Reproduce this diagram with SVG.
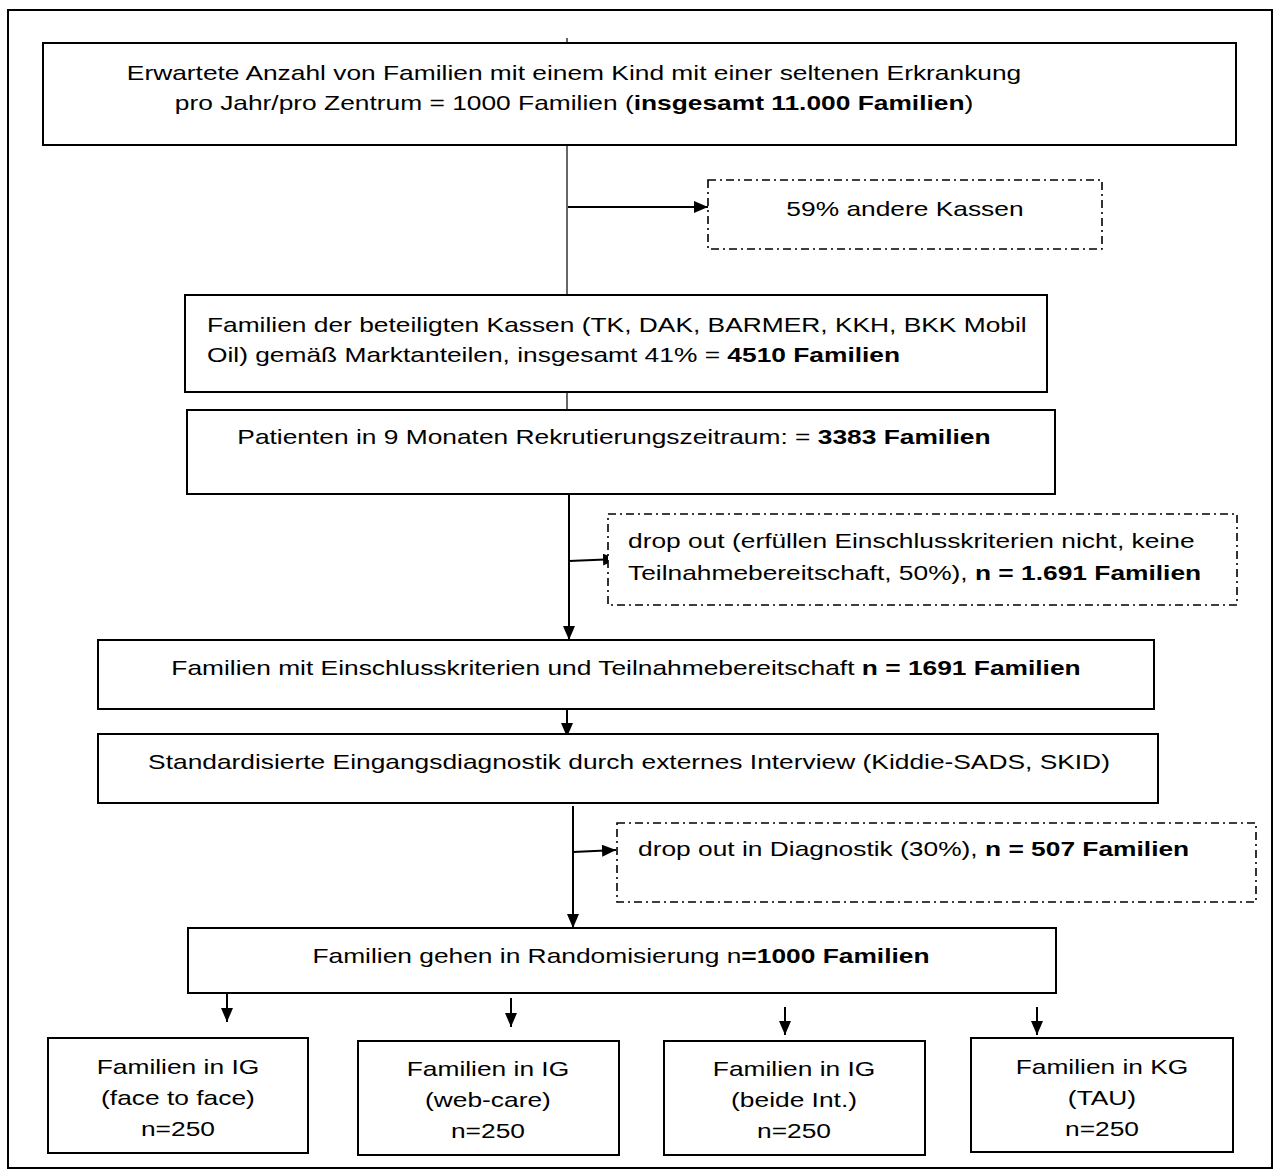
<svg xmlns="http://www.w3.org/2000/svg" width="1274" height="1171" viewBox="0 0 1274 1171">
<defs>
<style>
.box{fill:#fff;stroke:#000;stroke-width:2}
.dbox{fill:#fff;stroke:#000;stroke-width:1.6;stroke-dasharray:8 4 2 4}
.t{font-family:"Liberation Sans",Arial,sans-serif;font-size:21px;fill:#000}
.m{text-anchor:middle}
.b{font-weight:bold}
.ln{stroke:#000;stroke-width:1.2;fill:none}
.ar{stroke:#000;stroke-width:2;fill:none;marker-end:url(#ah)}
</style>
<marker id="ah" markerWidth="14" markerHeight="12" refX="14" refY="6" orient="auto" markerUnits="userSpaceOnUse">
<path d="M0,0 L14,6 L0,12 Z" fill="#000"/>
</marker>
</defs>
<rect x="0" y="0" width="1274" height="1171" fill="#fff"/>
<rect id="frame" x="8" y="10" width="1264" height="1158" fill="none" stroke="#000" stroke-width="2"/>

<g id="connectors">
<line class="ln" x1="567" y1="38" x2="567" y2="43"/>
<line class="ln" x1="567" y1="145" x2="567" y2="295"/>
<line class="ar" x1="568" y1="207" x2="708" y2="207"/>
<line class="ln" x1="567" y1="392" x2="567" y2="410"/>
<line class="ar" x1="569" y1="494" x2="569" y2="640"/>
<line class="ar" x1="569" y1="561" x2="617" y2="559"/>
<line class="ar" x1="567" y1="705" x2="567" y2="737"/>
<line class="ar" x1="573" y1="806" x2="573" y2="928"/>
<line class="ar" x1="573" y1="852" x2="616" y2="850"/>
<line class="ar" x1="227" y1="993" x2="227" y2="1022"/>
<line class="ar" x1="511" y1="998" x2="511" y2="1027"/>
<line class="ar" x1="785" y1="1007" x2="785" y2="1035"/>
<line class="ar" x1="1037" y1="1007" x2="1037" y2="1035"/>
</g>

<g id="n1">
<rect class="box" x="43" y="43" width="1193" height="102"/>
<text class="t m" transform="scale(1.255 1)" x="457.4" y="80">Erwartete Anzahl von Familien mit einem Kind mit einer seltenen Erkrankung</text>
<text class="t m" transform="scale(1.255 1)" x="457.4" y="110">pro Jahr/pro Zentrum = 1000 Familien (<tspan class="b">insgesamt 11.000 Familien</tspan>)</text>
</g>

<g id="n_andere">
<rect class="dbox" x="708" y="180" width="394" height="69"/>
<text class="t m" transform="scale(1.255 1)" x="721.1" y="216">59% andere Kassen</text>
</g>

<g id="n2">
<rect class="box" x="185" y="295" width="862" height="97"/>
<text class="t" transform="scale(1.255 1)" x="164.9" y="332">Familien der beteiligten Kassen (TK, DAK, BARMER, KKH, BKK Mobil</text>
<text class="t" transform="scale(1.255 1)" x="164.9" y="362">Oil) gemäß Marktanteilen, insgesamt 41% = <tspan class="b">4510 Familien</tspan></text>
</g>

<g id="n3">
<rect class="box" x="187" y="410" width="868" height="84"/>
<text class="t m" transform="scale(1.255 1)" x="489.2" y="444">Patienten in 9 Monaten Rekrutierungszeitraum: = <tspan class="b">3383 Familien</tspan></text>
</g>

<g id="n_drop1">
<rect class="dbox" x="608" y="514" width="629" height="91"/>
<text class="t" transform="scale(1.255 1)" x="500.4" y="548">drop out (erfüllen Einschlusskriterien nicht, keine</text>
<text class="t" transform="scale(1.255 1)" x="500.4" y="580">Teilnahmebereitschaft, 50%), <tspan class="b">n = 1.691 Familien</tspan></text>
</g>

<g id="n4">
<rect class="box" x="98" y="640" width="1056" height="69"/>
<text class="t m" transform="scale(1.255 1)" x="498.8" y="675">Familien mit Einschlusskriterien und Teilnahmebereitschaft <tspan class="b">n = 1691 Familien</tspan></text>
</g>

<g id="n5">
<rect class="box" x="98" y="734" width="1060" height="69"/>
<text class="t m" transform="scale(1.255 1)" x="501.2" y="769">Standardisierte Eingangsdiagnostik durch externes Interview (Kiddie-SADS, SKID)</text>
</g>

<g id="n_drop2">
<rect class="dbox" x="617" y="823" width="639" height="79"/>
<text class="t" transform="scale(1.255 1)" x="508.4" y="856">drop out in Diagnostik (30%), <tspan class="b">n = 507 Familien</tspan></text>
</g>

<g id="n6">
<rect class="box" x="188" y="928" width="868" height="65"/>
<text class="t m" transform="scale(1.255 1)" x="494.8" y="963">Familien gehen in Randomisierung n<tspan class="b">=1000 Familien</tspan></text>
</g>

<g id="g_ftf">
<rect class="box" x="48" y="1038" width="260" height="115"/>
<text class="t m" transform="scale(1.255 1)" x="141.8" y="1074">Familien in IG</text>
<text class="t m" transform="scale(1.255 1)" x="141.8" y="1105">(face to face)</text>
<text class="t m" transform="scale(1.255 1)" x="141.8" y="1136">n=250</text>
</g>

<g id="g_web">
<rect class="box" x="358" y="1041" width="261" height="114"/>
<text class="t m" transform="scale(1.255 1)" x="388.8" y="1076">Familien in IG</text>
<text class="t m" transform="scale(1.255 1)" x="388.8" y="1107">(web-care)</text>
<text class="t m" transform="scale(1.255 1)" x="388.8" y="1138">n=250</text>
</g>

<g id="g_beide">
<rect class="box" x="664" y="1041" width="261" height="114"/>
<text class="t m" transform="scale(1.255 1)" x="632.7" y="1076">Familien in IG</text>
<text class="t m" transform="scale(1.255 1)" x="632.7" y="1107">(beide Int.)</text>
<text class="t m" transform="scale(1.255 1)" x="632.7" y="1138">n=250</text>
</g>

<g id="g_kg">
<rect class="box" x="971" y="1038" width="262" height="114"/>
<text class="t m" transform="scale(1.255 1)" x="878.1" y="1074">Familien in KG</text>
<text class="t m" transform="scale(1.255 1)" x="878.1" y="1105">(TAU)</text>
<text class="t m" transform="scale(1.255 1)" x="878.1" y="1136">n=250</text>
</g>
</svg>
